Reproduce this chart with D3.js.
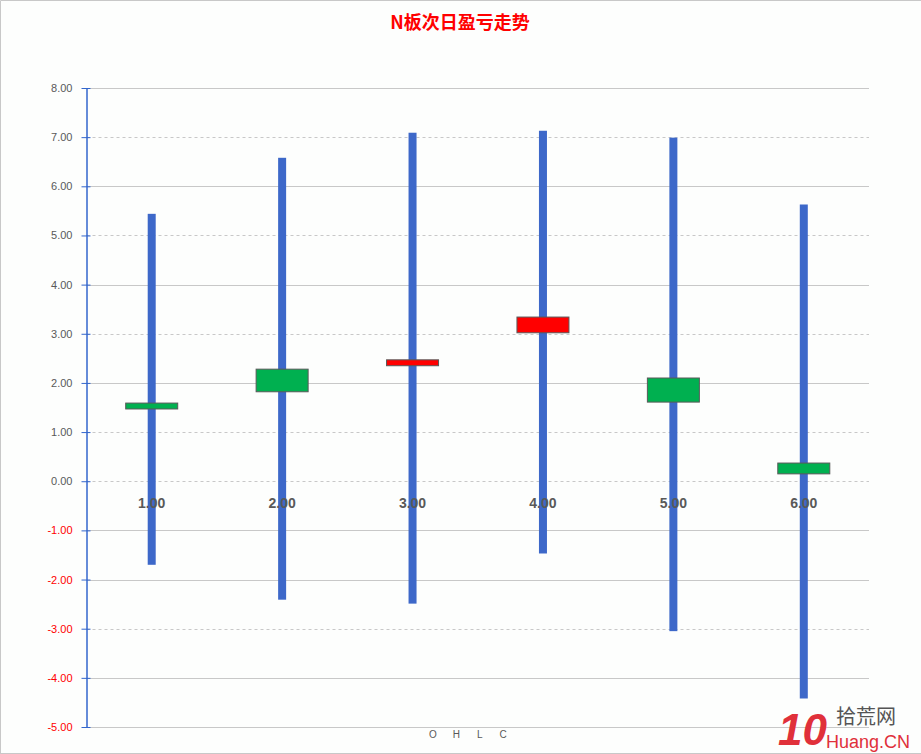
<!DOCTYPE html>
<html><head><meta charset="utf-8">
<script src="https://cdn.jsdelivr.net/npm/d3@7"></script>
<style>body{margin:0;background:#fff;}svg{display:block;font-family:"Liberation Sans",Arial,sans-serif;}</style>
</head><body>
<svg id="c" width="921" height="754"></svg>
<script>
const categories = ["1.00","2.00","3.00","4.00","5.00","6.00"];
const openV  = [1.59, 2.28, 2.35, 3.02, 2.10, 0.37];
const highV  = [5.44, 6.58, 7.09, 7.13, 6.99, 5.63];
const lowV   = [-1.70, -2.41, -2.49, -1.47, -3.05, -4.42];
const closeV = [1.47, 1.82, 2.47, 3.34, 1.61, 0.15];
const yTicks = [8,7,6,5,4,3,2,1,0,-1,-2,-3,-4,-5];
const dashedTicks = [7,5,3,1,0,-3];
const legendItems = ["O","H","L","C"];
const title = "N板次日盈亏走势";

const svg = d3.select("#c");
svg.append("rect").attr("width",921).attr("height",754).attr("fill","#fdfefd");
// border
svg.append("path").attr("d","M0.5,754V0.5H921").attr("fill","none").attr("stroke","#c8c8c8");
svg.append("line").attr("x1",0).attr("x2",921).attr("y1",753.5).attr("y2",753.5).attr("stroke","#c8c8c8");

const pLeft = 86.5, pRight = 869, pTop = 88, pBottom = 727;
const y = d3.scaleLinear().domain([-5,8]).range([pBottom, pTop]);
const x = d3.scaleBand().domain(categories).range([pLeft, pRight]);

// gridlines
svg.append("g").selectAll("line").data(yTicks).join("line")
  .attr("x1",pLeft).attr("x2",pRight)
  .attr("y1",d=>Math.round(y(d))+0.5).attr("y2",d=>Math.round(y(d))+0.5)
  .attr("stroke","#c8c8c8").attr("stroke-width",1)
  .attr("stroke-dasharray",d=>dashedTicks.includes(d)?"3,3":null);

// y axis
const yAxis = d3.axisLeft(y).tickValues(yTicks).tickFormat(d=>d.toFixed(2)).tickSize(5).tickSizeOuter(0);
const ga = svg.append("g").attr("transform",`translate(${pLeft},0)`).call(yAxis);
ga.select(".domain").attr("stroke","#3366cc").attr("stroke-width",1.5);
ga.selectAll(".tick line").attr("stroke","#3366cc").attr("x2",-5).attr("x1",4);
ga.selectAll(".tick text").attr("x",-14).attr("font-size",11)
  .attr("fill",d=>d<0?"#ff0000":"#595959").attr("font-family","Liberation Sans, Arial, sans-serif");

const data = categories.map((c,i)=>({c,o:openV[i],h:highV[i],l:lowV[i],cl:closeV[i]}));
// wicks
svg.append("g").selectAll("rect").data(data).join("rect")
  .attr("x",d=>x(d.c)+x.bandwidth()/2-4).attr("width",8)
  .attr("y",d=>y(d.h)).attr("height",d=>y(d.l)-y(d.h))
  .attr("fill","#3d68c9");
// bodies
svg.append("g").selectAll("rect").data(data).join("rect")
  .attr("x",d=>x(d.c)+x.bandwidth()/2-26).attr("width",52)
  .attr("y",d=>y(Math.max(d.o,d.cl))).attr("height",d=>Math.abs(y(d.o)-y(d.cl)))
  .attr("fill",d=>d.cl>d.o?"#ff0000":"#00b050")
  .attr("stroke","#595959").attr("stroke-width",1);

// category labels
svg.append("g").selectAll("text").data(categories).join("text")
  .attr("x",d=>x(d)+x.bandwidth()/2).attr("y",y(0)+27)
  .attr("text-anchor","middle").attr("font-size",14).attr("font-weight","bold")
  .attr("fill","#595959").text(d=>d);

// title
svg.append("text").attr("x",460).attr("y",29).attr("text-anchor","middle")
  .attr("font-size",18).attr("font-weight","bold").attr("fill","#ff0000")
  .attr("font-family","Noto Sans CJK SC, sans-serif").text(title);

// legend
const lx = d3.scalePoint().domain(legendItems).range([433,503]);
svg.append("g").selectAll("text").data(legendItems).join("text")
  .attr("x",d=>lx(d)).attr("y",738).attr("text-anchor","middle")
  .attr("font-size",10).attr("fill","#595959").text(d=>d);

// watermark
const wm = svg.append("g");
wm.append("text").attr("x",778).attr("y",745).attr("font-size",44).attr("font-weight","bold")
  .attr("fill","#e0303a").attr("font-style","italic").text("10");
wm.append("text").attr("x",836).attr("y",724).attr("font-size",20).attr("fill","#555")
  .attr("font-family","Noto Sans CJK SC, sans-serif").text("拾荒网");
wm.append("text").attr("x",826).attr("y",748).attr("font-size",18).attr("fill","#e0303a").text("Huang.CN");
</script>
</body></html>
